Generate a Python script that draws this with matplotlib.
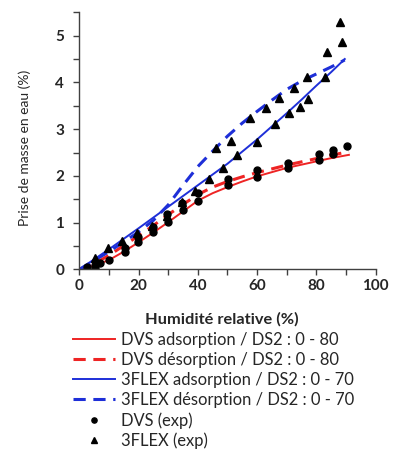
import matplotlib
matplotlib.use("Agg")
import matplotlib.pyplot as plt

# Model curves
x_dvs = [0, 5, 10, 15, 20, 25, 30, 35, 40, 45, 50, 55, 60, 65, 70, 75, 80, 85, 91]
dvs_ads = [0, 0.08, 0.2, 0.38, 0.58, 0.79, 1.01, 1.24, 1.47, 1.63, 1.76, 1.88, 1.99, 2.08, 2.17, 2.24, 2.31, 2.38, 2.45]
dvs_des = [0, 0.12, 0.3, 0.51, 0.72, 0.94, 1.17, 1.39, 1.6, 1.76, 1.88, 1.98, 2.07, 2.15, 2.23, 2.3, 2.37, 2.44, 2.52]

x_flex = [0, 10, 20, 25, 30, 35, 40, 45, 50, 55, 60, 65, 70, 75, 80, 85, 89.6]
flex_ads = [0, 0.43, 0.88, 1.11, 1.34, 1.57, 1.8, 2.03, 2.26, 2.52, 2.78, 3.06, 3.34, 3.63, 3.93, 4.22, 4.5]
flex_des = [0, 0.38, 0.8, 1.05, 1.38, 1.8, 2.2, 2.53, 2.85, 3.13, 3.38, 3.62, 3.85, 4.03, 4.18, 4.33, 4.48]

# Experimental points
dvs_exp_x = [2.7, 5.3, 5.3, 7, 10.1, 15.4, 15.4, 19.9, 19.9, 25, 25, 30, 29.5, 35, 34.5, 40, 40,
             50.3, 50.3, 60, 60, 70.5, 70.5, 81, 81, 85.5, 85.5, 90.2]
dvs_exp_y = [0.06, 0.02, 0.1, 0.13, 0.21, 0.38, 0.45, 0.59, 0.7, 0.8, 0.91, 1.02, 1.18, 1.27, 1.41, 1.46, 1.64,
             1.8, 1.94, 1.98, 2.12, 2.16, 2.28, 2.35, 2.46, 2.46, 2.55, 2.63]

flex_exp_x = [5.1, 9.5, 14.3, 19.3, 24.4, 29.5, 34.5, 39.2, 43.9, 46.1, 48.6, 51.1, 53.3, 57.6, 60.0,
              63.0, 66.0, 67.5, 70.9, 72.5, 74.5, 76.9, 77.3, 82.9, 83.7, 88.0, 88.5]
flex_exp_y = [0.25, 0.45, 0.6, 0.78, 0.93, 1.15, 1.45, 1.68, 1.94, 2.6, 2.17, 2.75, 2.44, 3.23, 2.73,
              3.45, 3.1, 3.67, 3.35, 3.88, 3.48, 4.12, 3.65, 4.11, 4.66, 5.3, 4.87]

labels = ["DVS adsorption / DS2 : 0 - 80", "DVS désorption / DS2 : 0 - 80",
          "3FLEX adsorption / DS2 : 0 - 70", "3FLEX désorption / DS2 : 0 - 70",
          "DVS (exp)", "3FLEX (exp)"]

plt.rcParams['font.family'] = ['Lato', 'DejaVu Sans']

RED = '#ee2424'
BLUE = '#1e2fd8'
TXT = '#262626'

fig = plt.figure(figsize=(3.97, 4.55), dpi=100)
ax = fig.add_axes([0.2, 0.408, 0.746, 0.565])

dash = (4, 2.5)
l1, = ax.plot(x_dvs, dvs_ads, color=RED, lw=1.4)
l2, = ax.plot(x_dvs, dvs_des, color=RED, lw=2.2, dashes=dash)
l3, = ax.plot(x_flex, flex_ads, color=BLUE, lw=1.4)
l4, = ax.plot(x_flex, flex_des, color=BLUE, lw=2.2, dashes=dash)
l5, = ax.plot(dvs_exp_x, dvs_exp_y, 'o', color='black', ms=5, ls='none')
l6, = ax.plot(flex_exp_x, flex_exp_y, '^', color='black', ms=6, ls='none')

ax.set_xlim(0, 100)
ax.set_ylim(0, 5.5)
ax.set_xticks([0, 20, 40, 60, 80, 100])
ax.set_xticks(range(0, 101, 10), minor=True)
ax.set_yticks([0, 1, 2, 3, 4, 5])
ax.set_yticks([0.5, 1.5, 2.5, 3.5, 4.5, 5.5], minor=True)
for s in ['top', 'right']:
    ax.spines[s].set_visible(False)
for s in ['left', 'bottom']:
    ax.spines[s].set_color('#404040')
    ax.spines[s].set_linewidth(1.0)
ax.tick_params(axis='both', which='both', direction='out', length=4, width=1.0, color='#404040')
ax.tick_params(axis='y', which='major', pad=7)
ax.tick_params(axis='x', which='major', pad=3)
for lab in ax.get_xticklabels() + ax.get_yticklabels():
    lab.set_fontweight('bold')
    lab.set_fontsize(11)
    lab.set_color(TXT)

ax.set_ylabel("Prise de masse en eau (%)", fontsize=10, color=TXT)
ax.yaxis.set_label_coords(-0.162, 0.474)
ax.set_xlabel("Humidité relative (%)", fontsize=11.8, fontweight='bold', color=TXT)
ax.xaxis.set_label_coords(0.48, -0.165)

fig.legend([l1, l2, l3, l4, l5, l6], labels, loc='upper left',
           bbox_to_anchor=(0.185, 0.27), frameon=False, fontsize=11.9,
           handlelength=2.5, handletextpad=0.35, labelspacing=0.24,
           borderpad=0, borderaxespad=0, labelcolor=TXT, markerscale=0.75)

fig.savefig("out.png", dpi=100)
